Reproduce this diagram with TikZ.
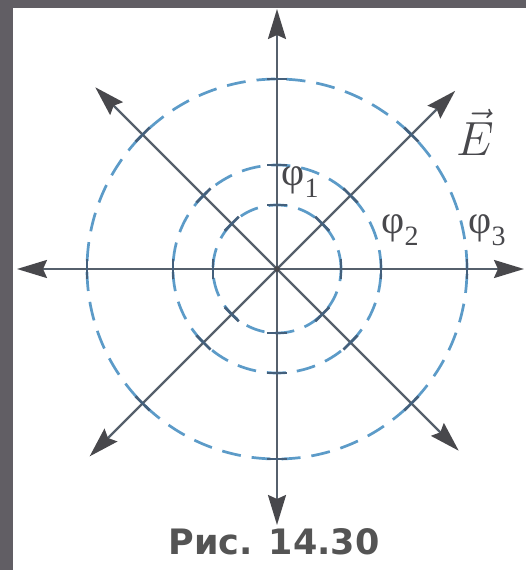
\documentclass[tikz,border=0pt]{standalone}
\usepackage{fix-cm}
\usepackage{amsmath}
\usepackage{fontspec}
\usepackage{xcolor}
\usepackage{tikz}
\usetikzlibrary{arrows.meta}
\newfontfamily\grkfont{Liberation Serif}
\newfontfamily\capfont{DejaVu Sans}
\definecolor{framec}{HTML}{615E64}
\definecolor{rayc}{HTML}{56606C}
\definecolor{tipc}{HTML}{48484C}
\definecolor{equic}{HTML}{5C9BC8}
\definecolor{notchc}{HTML}{44607C}
\definecolor{capc}{HTML}{545454}
\newcommand{\potl}[1]{{\grkfont φ\raisebox{-0.3em}{\fontsize{28}{28}\selectfont #1}}}
\tikzset{
  ray/.style={rayc,line width=2.4pt,-{Stealth[length=30pt,width=18pt,inset=4pt,color=tipc]}},
  equi/.style={equic,line width=2.7pt,dash pattern=on 19pt off 11pt},
  notch/.style={notchc,line width=2.6pt},
  lbl/.style={inner sep=0pt,text=tipc,font=\fontsize{40}{44}\selectfont}
}
\begin{document}
\begin{tikzpicture}[x=1pt,y=1pt]
% frame
\fill[framec] (-277,-301) rectangle (249,269);
\fill[white] (-264,-301) rectangle (249,261);
\useasboundingbox (-277,-301) rectangle (249,269);
\coordinate (o) at (0,0);
% equipotentials
\foreach \R in {64,104,190}{\draw[equi] (o) circle (\R);}
% field lines
\foreach \a/\l in {0/247,45/252,90/260,135/257,180/260,225/265,270/256,315/257}{
  \coordinate (e\a) at (\a:\l);
  \draw[ray] (o) -- (e\a);
}
\foreach \R in {64,104,190}{
  \foreach \a in {0,45,...,315}{\draw[notch,rotate=\a] (\R,-10) -- (\R,10);}
}
\fill[tipc] (o) circle (2.8pt);
% labels
\node[lbl] (p1) at (23,87) {\potl{1}};
\node[lbl] (p2) at (123,39) {\potl{2}};
\node[lbl] (p3) at (210,39) {\potl{3}};
\node[lbl,font=\fontsize{48}{52}\selectfont] (ev) at (198,137) {$\vec{E}$};
\node[anchor=base,inner sep=0pt,text=capc] (cap) at (-3,-285)
  {\capfont\bfseries\fontsize{35}{40}\selectfont Рис. 14.30};
\end{tikzpicture}
\end{document}
